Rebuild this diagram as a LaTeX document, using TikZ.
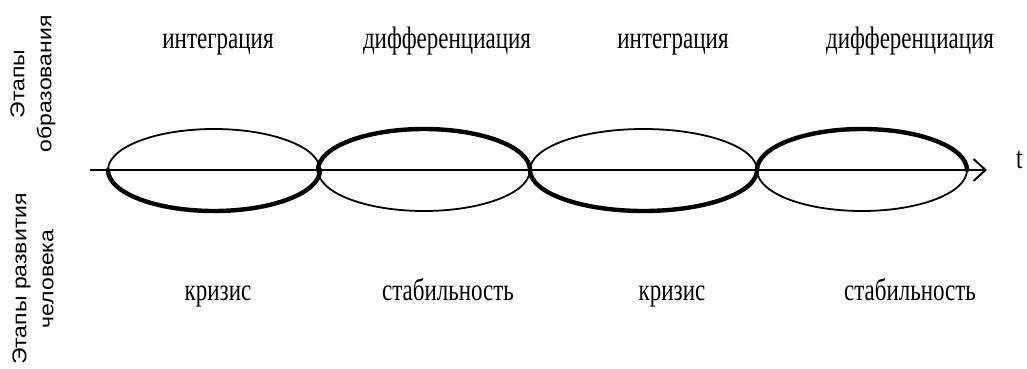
\documentclass[tikz,border=0pt]{standalone}
\usepackage{fontspec}
\setmainfont{Liberation Serif}
\newfontfamily\lsans{Liberation Sans}
\usetikzlibrary{arrows.meta}
\begin{document}
\begin{tikzpicture}[x=1pt,y=1pt,
  thinline/.style={line width=1.8pt},
  thickline/.style={line width=4.4pt},
  toplabel/.style={anchor=base,yscale=1.35,font=\fontsize{23}{26}\selectfont,inner sep=0pt},
  sidelabel/.style={yscale=1.15,rotate=90,align=center,font=\lsans\fontsize{20}{27}\selectfont,inner sep=0pt}]
\useasboundingbox (0,0) rectangle (1027,368);
% axis
\coordinate (axs) at (90,198);
\coordinate (axe) at (987,198);
\node[anchor=base west,yscale=1.35,font=\fontsize{23}{26}\selectfont,inner sep=0pt] (t) at (1016,200) {t};
% ellipses (center x, rx)
\foreach \n/\cx/\rx/\side in {1/214/106/bot,2/424/106/top,3/643.5/113.5/bot,4/862/105/top}{
  \coordinate (c\n) at (\cx,198);
  \draw[thinline] (c\n) ellipse[x radius=\rx, y radius=41];
  \ifnum\pdfstrcmp{\side}{bot}=0
    \draw[thickline,line cap=round] ([xshift=-\rx pt]c\n) arc[start angle=180,end angle=360,x radius=\rx,y radius=41];
  \else
    \draw[thickline,line cap=round] ([xshift=\rx pt]c\n) arc[start angle=0,end angle=180,x radius=\rx,y radius=41];
  \fi
}
\draw[line width=2pt,-{Straight Barb[length=12pt,width=22pt,line width=2pt]}] (axs) -- (axe);
% labels
\node[toplabel] (i1) at (218,320) {интеграция};
\node[toplabel] (d1) at (447,320) {дифференциация};
\node[toplabel] (i2) at (673,320) {интеграция};
\node[toplabel] (d2) at (910,320) {дифференциация};
\node[toplabel] (k1) at (218,68) {кризис};
\node[toplabel] (s1) at (448,68) {стабильность};
\node[toplabel] (k2) at (672,68) {кризис};
\node[toplabel] (s2) at (910,68) {стабильность};
\node[sidelabel] (eo) at (33,284) {Этапы\\образования};
\node[sidelabel] (er) at (33,89) {Этапы развития\\человека};
\end{tikzpicture}
\end{document}
